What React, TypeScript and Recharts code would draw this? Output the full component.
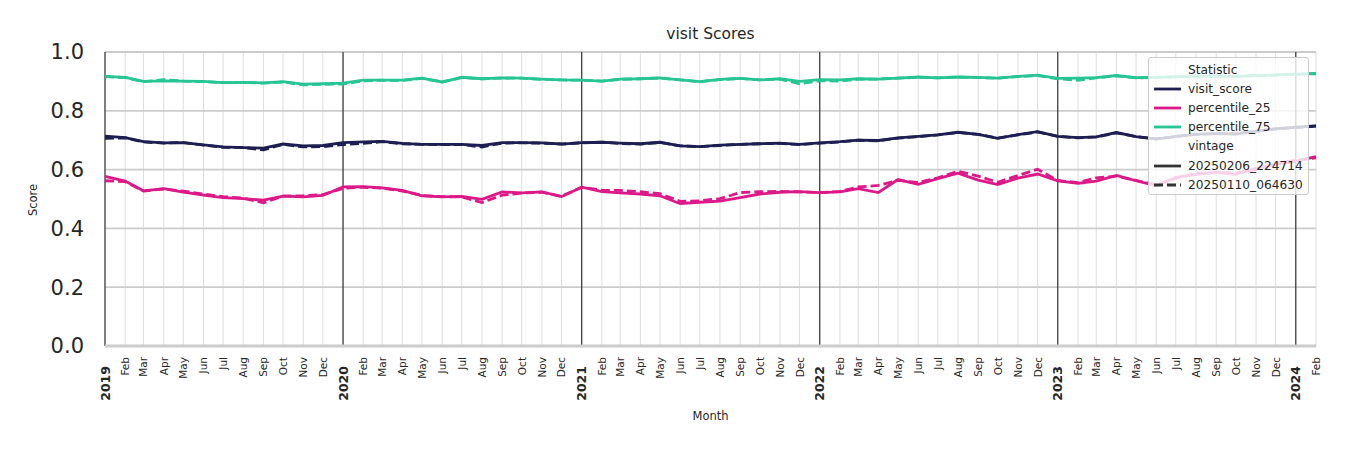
import { LineChart, Line, XAxis, YAxis, CartesianGrid, ReferenceLine } from "recharts";

const months = [
  "2019-01", "2019-02", "2019-03", "2019-04", "2019-05", "2019-06", "2019-07", "2019-08", "2019-09", "2019-10", "2019-11", "2019-12",
  "2020-01", "2020-02", "2020-03", "2020-04", "2020-05", "2020-06", "2020-07", "2020-08", "2020-09", "2020-10", "2020-11", "2020-12",
  "2021-01", "2021-02", "2021-03", "2021-04", "2021-05", "2021-06", "2021-07", "2021-08", "2021-09", "2021-10", "2021-11", "2021-12",
  "2022-01", "2022-02", "2022-03", "2022-04", "2022-05", "2022-06", "2022-07", "2022-08", "2022-09", "2022-10", "2022-11", "2022-12",
  "2023-01", "2023-02", "2023-03", "2023-04", "2023-05", "2023-06", "2023-07", "2023-08", "2023-09", "2023-10", "2023-11", "2023-12",
  "2024-01", "2024-02",
];
const monthNames = ["Jan", "Feb", "Mar", "Apr", "May", "Jun", "Jul", "Aug", "Sep", "Oct", "Nov", "Dec"];
const yTicks = [0, 0.2, 0.4, 0.6, 0.8, 1.0];

// vintage 20250206_224714 (solid)
const visitScore = [
  0.714, 0.709, 0.695, 0.691, 0.692, 0.684, 0.677, 0.675, 0.673, 0.687, 0.681, 0.682,
  0.692, 0.694, 0.696, 0.689, 0.686, 0.686, 0.686, 0.682, 0.692, 0.692, 0.691, 0.687,
  0.692, 0.693, 0.690, 0.688, 0.693, 0.681, 0.678, 0.683, 0.686, 0.688, 0.690, 0.686,
  0.691, 0.695, 0.700, 0.699, 0.708, 0.713, 0.718, 0.727, 0.720, 0.706, 0.719, 0.729,
  0.713, 0.709, 0.711, 0.726, 0.712, 0.704, 0.713, 0.720, 0.723, 0.721, 0.731, 0.739,
  0.744, 0.749,
];
const p25 = [
  0.577, 0.561, 0.528, 0.535, 0.523, 0.513, 0.505, 0.501, 0.496, 0.510, 0.507, 0.512,
  0.541, 0.542, 0.538, 0.529, 0.511, 0.507, 0.509, 0.499, 0.524, 0.521, 0.524, 0.508,
  0.540, 0.525, 0.521, 0.517, 0.511, 0.484, 0.489, 0.493, 0.505, 0.517, 0.523, 0.525,
  0.522, 0.524, 0.535, 0.522, 0.566, 0.550, 0.569, 0.588, 0.564, 0.549, 0.571, 0.585,
  0.562, 0.553, 0.561, 0.580, 0.562, 0.545, 0.574, 0.584, 0.591, 0.584, 0.604, 0.618,
  0.629, 0.644,
];
const p75 = [
  0.917, 0.914, 0.900, 0.902, 0.901, 0.900, 0.896, 0.897, 0.895, 0.899, 0.891, 0.892,
  0.894, 0.904, 0.904, 0.904, 0.911, 0.898, 0.914, 0.909, 0.912, 0.911, 0.908, 0.905,
  0.904, 0.901, 0.908, 0.909, 0.912, 0.905, 0.899, 0.907, 0.910, 0.905, 0.909, 0.900,
  0.906, 0.905, 0.909, 0.908, 0.911, 0.915, 0.912, 0.915, 0.914, 0.911, 0.917, 0.921,
  0.910, 0.911, 0.913, 0.920, 0.913, 0.914, 0.916, 0.917, 0.919, 0.917, 0.920, 0.922,
  0.925, 0.927,
];

// vintage 20250110_064630 (dashed)
const visitScorePrev = [
  0.706, 0.708, 0.694, 0.690, 0.692, 0.683, 0.676, 0.675, 0.667, 0.686, 0.677, 0.678,
  0.685, 0.689, 0.695, 0.688, 0.686, 0.685, 0.685, 0.677, 0.690, 0.691, 0.690, 0.687,
  0.691, 0.693, 0.689, 0.687, 0.692, 0.681, 0.678, 0.682, 0.686, 0.688, 0.689, 0.685,
  0.690, 0.694, 0.700, 0.698, 0.707, 0.712, 0.718, 0.726, 0.720, 0.707, 0.718, 0.728,
  0.713, 0.708, 0.711, 0.725, 0.712, 0.705, 0.712, 0.720, 0.722, 0.722, 0.730, 0.738,
  0.743, 0.748,
];
const p25Prev = [
  0.562, 0.559, 0.527, 0.534, 0.527, 0.517, 0.508, 0.503, 0.487, 0.510, 0.511, 0.515,
  0.536, 0.540, 0.537, 0.527, 0.512, 0.508, 0.507, 0.488, 0.513, 0.520, 0.523, 0.509,
  0.540, 0.530, 0.529, 0.525, 0.518, 0.492, 0.494, 0.501, 0.522, 0.525, 0.526, 0.524,
  0.522, 0.526, 0.541, 0.546, 0.563, 0.556, 0.572, 0.594, 0.578, 0.557, 0.580, 0.601,
  0.563, 0.556, 0.572, 0.578, 0.563, 0.548, 0.570, 0.587, 0.590, 0.588, 0.600, 0.622,
  0.632, 0.640,
];
const p75Prev = [
  0.916, 0.913, 0.899, 0.906, 0.901, 0.899, 0.896, 0.896, 0.894, 0.898, 0.888, 0.890,
  0.891, 0.902, 0.904, 0.903, 0.910, 0.898, 0.913, 0.909, 0.911, 0.911, 0.907, 0.905,
  0.904, 0.901, 0.907, 0.909, 0.911, 0.905, 0.899, 0.906, 0.910, 0.905, 0.908, 0.892,
  0.902, 0.901, 0.908, 0.908, 0.911, 0.914, 0.912, 0.915, 0.913, 0.911, 0.916, 0.920,
  0.909, 0.904, 0.912, 0.919, 0.912, 0.914, 0.915, 0.917, 0.918, 0.917, 0.919, 0.921,
  0.924, 0.926,
];

const NAVY = "#1e1e52";
const PINK = "#dd1888";
const GREEN = "#27c494";
const FONT = "'DejaVu Sans', sans-serif";

const toTime = (m: string) => Date.UTC(+m.slice(0, 4), +m.slice(5, 7) - 1, 1);

const data = months.map((m, i) => ({
  t: toTime(m),
  visit: visitScore[i],
  p25: p25[i],
  p75: p75[i],
  visitPrev: visitScorePrev[i],
  p25Prev: p25Prev[i],
  p75Prev: p75Prev[i],
}));

const monthTicks = data.map((d) => d.t);
const yearTicks = months.filter((m) => m.endsWith("-01")).map(toTime);

// year ticks sit a bit lower (bigger pad on major ticks)
const MonthTick = ({ x, y, payload }: any) => {
  const i = monthTicks.indexOf(payload.value);
  const m = months[i];
  const isYear = m.endsWith("-01");
  const label = isYear ? m.slice(0, 4) : monthNames[+m.slice(5, 7) - 1];
  const ty = y + (isYear ? 20 : 11);
  return (
    <text
      x={x}
      y={ty}
      transform={`rotate(-90 ${x} ${ty})`}
      textAnchor="end"
      dominantBaseline="central"
      fontFamily={FONT}
      fontSize={isYear ? 12.5 : 10.5}
      fontWeight={isYear ? 700 : 400}
      fill="#262626"
    >
      {label}
    </text>
  );
};

const legendRows = [
  { label: "Statistic" },
  { label: "visit_score", color: NAVY },
  { label: "percentile_25", color: PINK },
  { label: "percentile_75", color: GREEN },
  { label: "vintage" },
  { label: "20250206_224714", color: "#333333" },
  { label: "20250110_064630", color: "#333333", dashed: true },
];

function LegendBox() {
  return (
    <div
      style={{
        position: "absolute",
        left: 1148,
        top: 57,
        width: 161,
        height: 138,
        background: "rgba(255,255,255,0.8)",
        border: "1px solid #cccccc",
        borderRadius: 3,
        boxSizing: "border-box",
        fontFamily: FONT,
        fontSize: 12.2,
        color: "#262626",
        padding: "2px 0 0 4px",
      }}
    >
      {legendRows.map((r) => (
        <div key={r.label} style={{ display: "flex", alignItems: "center", height: 19.2 }}>
          <svg width={35} height={8} style={{ flexShrink: 0 }}>
            {r.color && (
              <line x1={1} x2={28} y1={4} y2={4} stroke={r.color} strokeWidth={2.8} strokeDasharray={r.dashed ? "9 4" : undefined} />
            )}
          </svg>
          <span style={{ whiteSpace: "nowrap" }}>{r.label}</span>
        </div>
      ))}
    </div>
  );
}

export default function App() {
  return (
    <div style={{ position: "absolute", left: 0, top: 0, width: 1350, height: 450, background: "#fff" }}>
      <div style={{ position: "absolute", left: 560, top: 25, width: 301, textAlign: "center", fontFamily: FONT, fontSize: 15.5, color: "#262626" }}>
        visit Scores
      </div>
      <div
        style={{
          position: "absolute",
          left: 33,
          top: 200,
          transform: "translate(-50%, -50%) rotate(-90deg)",
          fontFamily: FONT,
          fontSize: 11.5,
          color: "#262626",
          whiteSpace: "nowrap",
        }}
      >
        Score
      </div>
      <div style={{ position: "absolute", left: 610, top: 409, width: 201, textAlign: "center", fontFamily: FONT, fontSize: 11.5, color: "#262626" }}>
        Month
      </div>
      <LineChart width={1350} height={450} data={data} margin={{ top: 52, right: 34, left: 0, bottom: 0 }}>
        <CartesianGrid horizontal={false} stroke="#dedede" strokeWidth={1} />
        <CartesianGrid vertical={false} stroke="#cccccc" strokeWidth={1.8} />
        <XAxis
          dataKey="t"
          type="number"
          scale="linear"
          domain={[monthTicks[0], monthTicks[monthTicks.length - 1]]}
          ticks={monthTicks}
          interval={0}
          tick={<MonthTick />}
          tickLine={false}
          tickSize={0}
          tickMargin={0}
          axisLine={{ stroke: "#cccccc", strokeWidth: 3 }}
          height={104}
        />
        <YAxis
          domain={[0, 1]}
          ticks={yTicks}
          tickFormatter={(v: number) => v.toFixed(1)}
          tick={{ fontSize: 21, fill: "#262626", fontFamily: FONT }}
          tickLine={false}
          axisLine={false}
          tickSize={0}
          tickMargin={21}
          width={105}
        />
        {yearTicks.map((t) => (
          <ReferenceLine key={t} x={t} stroke="#333333" strokeWidth={1.2} />
        ))}
        <Line type="linear" dataKey="visit" stroke={NAVY} strokeWidth={2.8} dot={false} isAnimationActive={false} />
        <Line type="linear" dataKey="visitPrev" stroke={NAVY} strokeWidth={2.8} strokeDasharray="9 4" dot={false} isAnimationActive={false} />
        <Line type="linear" dataKey="p25" stroke={PINK} strokeWidth={2.8} dot={false} isAnimationActive={false} />
        <Line type="linear" dataKey="p25Prev" stroke={PINK} strokeWidth={2.8} strokeDasharray="9 4" dot={false} isAnimationActive={false} />
        <Line type="linear" dataKey="p75" stroke={GREEN} strokeWidth={2.8} dot={false} isAnimationActive={false} />
        <Line type="linear" dataKey="p75Prev" stroke={GREEN} strokeWidth={2.8} strokeDasharray="9 4" dot={false} isAnimationActive={false} />
      </LineChart>
      <LegendBox />
    </div>
  );
}
